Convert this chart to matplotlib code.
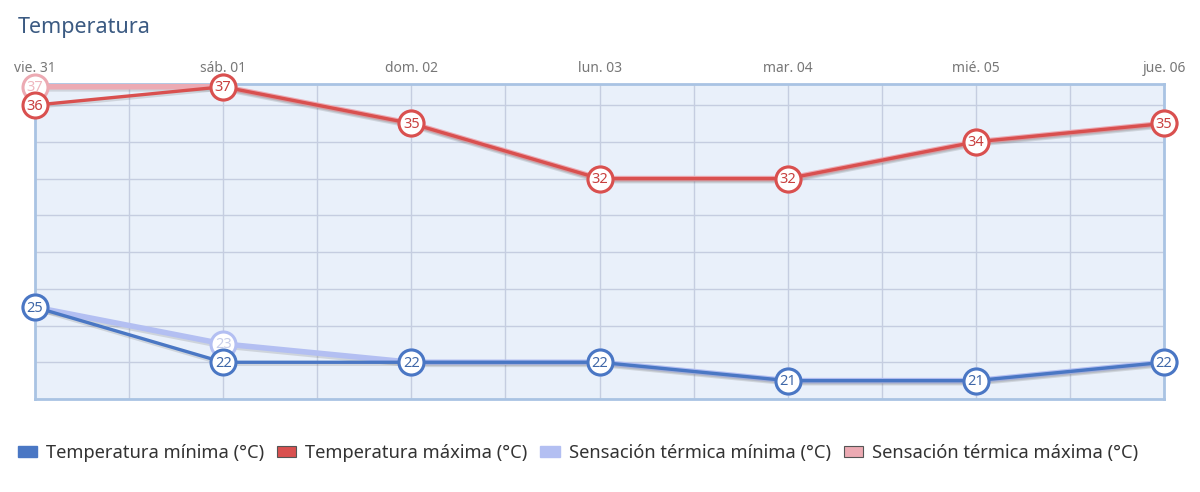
import matplotlib
matplotlib.use("Agg")
import matplotlib.pyplot as plt
import matplotlib.patheffects as pe
from matplotlib.patches import Patch
import numpy as np

plt.rcParams['font.family'] = ['Noto Sans', 'DejaVu Sans']

days = ['vie. 31', 'sáb. 01', 'dom. 02', 'lun. 03', 'mar. 04', 'mié. 05', 'jue. 06']
t_min = [25, 22, 22, 22, 21, 21, 22]
t_max = [36, 37, 35, 32, 32, 34, 35]
st_min = [25, 23, 22, 22, 21, 21, 22]
st_max = [37, 37, 35, 32, 32, 34, 35]

c_min = '#4a77c4'
c_max = '#d9504f'
c_stmin = '#b3bff2'
c_stmax = '#ecaab3'

fig = plt.figure(figsize=(12, 4.92), dpi=100)
ax = fig.add_axes([35/1200, 93/492, 1129/1200, 315/492])
ax.set_facecolor('#e9f0fa')
x = np.arange(len(days))

shadow = [pe.SimpleLineShadow(offset=(0.5, -1.5), shadow_color='#666666', alpha=0.2), pe.Normal()]


def draw(vals, color, lw, z, txtcolor):
    ax.plot(x, vals, color=color, lw=lw, zorder=z, clip_on=False,
            solid_capstyle='round', path_effects=shadow)
    ax.plot(x, vals, 'o', ms=18, mfc='white', mec=color, mew=2.2, zorder=z + 0.1,
            clip_on=False)
    for xi, v in zip(x, vals):
        ax.text(xi, v - 0.05, str(v), ha='center', va='center', fontsize=10.5, fontweight='bold',
                color=txtcolor, zorder=z + 0.2)


draw(st_min, c_stmin, 4, 3, '#c6cde8')
draw(st_max, c_stmax, 4, 3, '#efb7bf')
draw(t_min, c_min, 2.4, 5, '#3f67a8')
draw(t_max, c_max, 2.4, 5, '#c8403f')

ax.set_xlim(0, 6)
ax.set_ylim(20, 37.15)
ax.set_xticks(x)
ax.set_xticks(x[:-1] + 0.5, minor=True)
ax.set_xticklabels(days)
ax.set_yticks(np.arange(20, 37, 2))
ax.xaxis.tick_top()
ax.tick_params(axis='x', which='both', length=0, pad=6, labelsize=10, labelcolor='#777777')
ax.tick_params(axis='y', length=0, labelleft=False)
ax.grid(True, which='both', color='#c5cde0', lw=1)
ax.set_axisbelow(True)
for s in ax.spines.values():
    s.set_color('#a9c3e3')
    s.set_linewidth(2)

fig.text(18/1200, 1 - 27/492, 'Temperatura', fontsize=15.5, color='#3b5a82', va='center', ha='left')

handles = [Patch(facecolor=c_min, edgecolor=c_min),
           Patch(facecolor=c_max, edgecolor='#555555', lw=0.8),
           Patch(facecolor=c_stmin, edgecolor=c_stmin),
           Patch(facecolor=c_stmax, edgecolor='#555555', lw=0.8)]
labels = ['Temperatura mínima (°C)', 'Temperatura máxima (°C)',
          'Sensación térmica mínima (°C)', 'Sensación térmica máxima (°C)']
fig.legend(handles, labels, loc='center left', bbox_to_anchor=(1/1200, 1 - 453/492), ncol=4,
           frameon=False, fontsize=13.2, handlelength=1.05, handleheight=0.5, handletextpad=0.5,
           columnspacing=0.7, labelcolor='#333333')

fig.savefig('out.png', dpi=100)
